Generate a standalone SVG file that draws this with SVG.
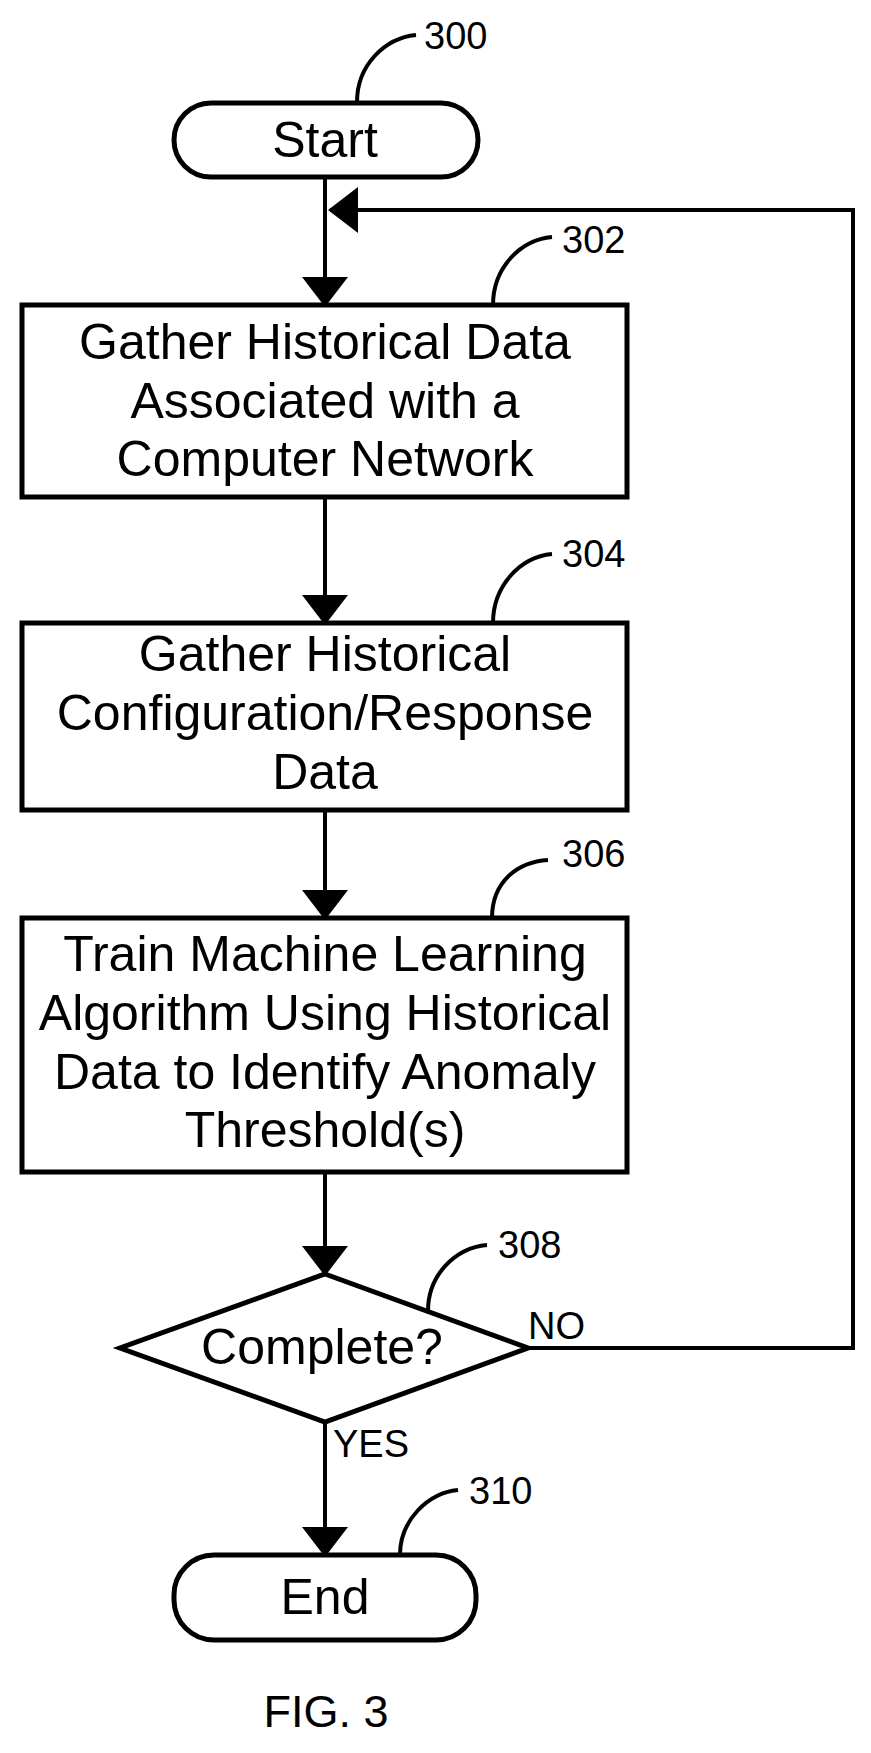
<svg xmlns="http://www.w3.org/2000/svg" width="871" height="1753" viewBox="0 0 871 1753">
<style>
.s{fill:#fff;stroke:#000;stroke-width:5}
.l{fill:none;stroke:#000;stroke-width:4}
.t{font-family:"Liberation Sans",Arial,sans-serif;font-size:50px;text-anchor:middle;fill:#000}
.n{font-family:"Liberation Sans",Arial,sans-serif;font-size:38px;fill:#000}
</style>
<defs>
<marker id="a" markerUnits="userSpaceOnUse" markerWidth="30" markerHeight="46" refX="28" refY="15" orient="auto" viewBox="0 0 30 30" preserveAspectRatio="none">
<path d="M0,0 L30,15 L0,30 Z" fill="#000"/>
</marker>
</defs>
<rect width="871" height="1753" fill="#fff"/>
<g id="connectors">
<line class="l" x1="325" y1="177" x2="325" y2="305" marker-end="url(#a)"/>
<path class="l" d="M528,1348 H853 V210 H330" marker-end="url(#a)"/>
<line class="l" x1="325" y1="497" x2="325" y2="623" marker-end="url(#a)"/>
<line class="l" x1="325" y1="810" x2="325" y2="918" marker-end="url(#a)"/>
<line class="l" x1="325" y1="1172" x2="325" y2="1274" marker-end="url(#a)"/>
<line class="l" x1="325" y1="1422" x2="325" y2="1555" marker-end="url(#a)"/>
<path class="l" d="M357,102 C357,65 385,38 416,35"/>
<path class="l" d="M493,305 C493,268 520,240 552,237"/>
<path class="l" d="M493,623 C493,586 520,557 552,554"/>
<path class="l" d="M492,918 C492,881 518,862 548,860"/>
<path class="l" d="M428,1311 C428,1275 455,1248 487,1245"/>
<path class="l" d="M400,1555 C400,1520 428,1493 458,1490"/>
<text class="n" x="528" y="1339">NO</text>
<text class="n" x="333" y="1457">YES</text>
</g>
<g id="n300">
<rect class="s" x="174" y="103" width="304" height="74" rx="37"/>
<text class="t" x="325" y="157">Start</text>
<text class="n" x="424" y="49">300</text>
</g>
<g id="n302">
<rect class="s" x="22" y="305" width="605" height="192"/>
<text class="t" x="325" y="359">Gather Historical Data</text>
<text class="t" x="325" y="418">Associated with a</text>
<text class="t" x="325" y="476">Computer Network</text>
<text class="n" x="562" y="253">302</text>
</g>
<g id="n304">
<rect class="s" x="22" y="623" width="605" height="187"/>
<text class="t" x="325" y="671">Gather Historical</text>
<text class="t" x="325" y="730">Configuration/Response</text>
<text class="t" x="325" y="789">Data</text>
<text class="n" x="562" y="567">304</text>
</g>
<g id="n306">
<rect class="s" x="22" y="918" width="605" height="254"/>
<text class="t" x="325" y="971">Train Machine Learning</text>
<text class="t" x="325" y="1030">Algorithm Using Historical</text>
<text class="t" x="325" y="1089">Data to Identify Anomaly</text>
<text class="t" x="325" y="1147">Threshold(s)</text>
<text class="n" x="562" y="867">306</text>
</g>
<g id="n308">
<path class="s" d="M325,1274 L528,1348 L325,1422 L120,1348 Z"/>
<text class="t" x="322" y="1364">Complete?</text>
<text class="n" x="498" y="1258">308</text>
</g>
<g id="n310">
<rect class="s" x="174" y="1555" width="302" height="85" rx="40"/>
<text class="t" x="325" y="1614">End</text>
<text class="n" x="469" y="1504">310</text>
</g>
<text class="t" x="326" y="1727" style="font-size:45px">FIG. 3</text>
</svg>
